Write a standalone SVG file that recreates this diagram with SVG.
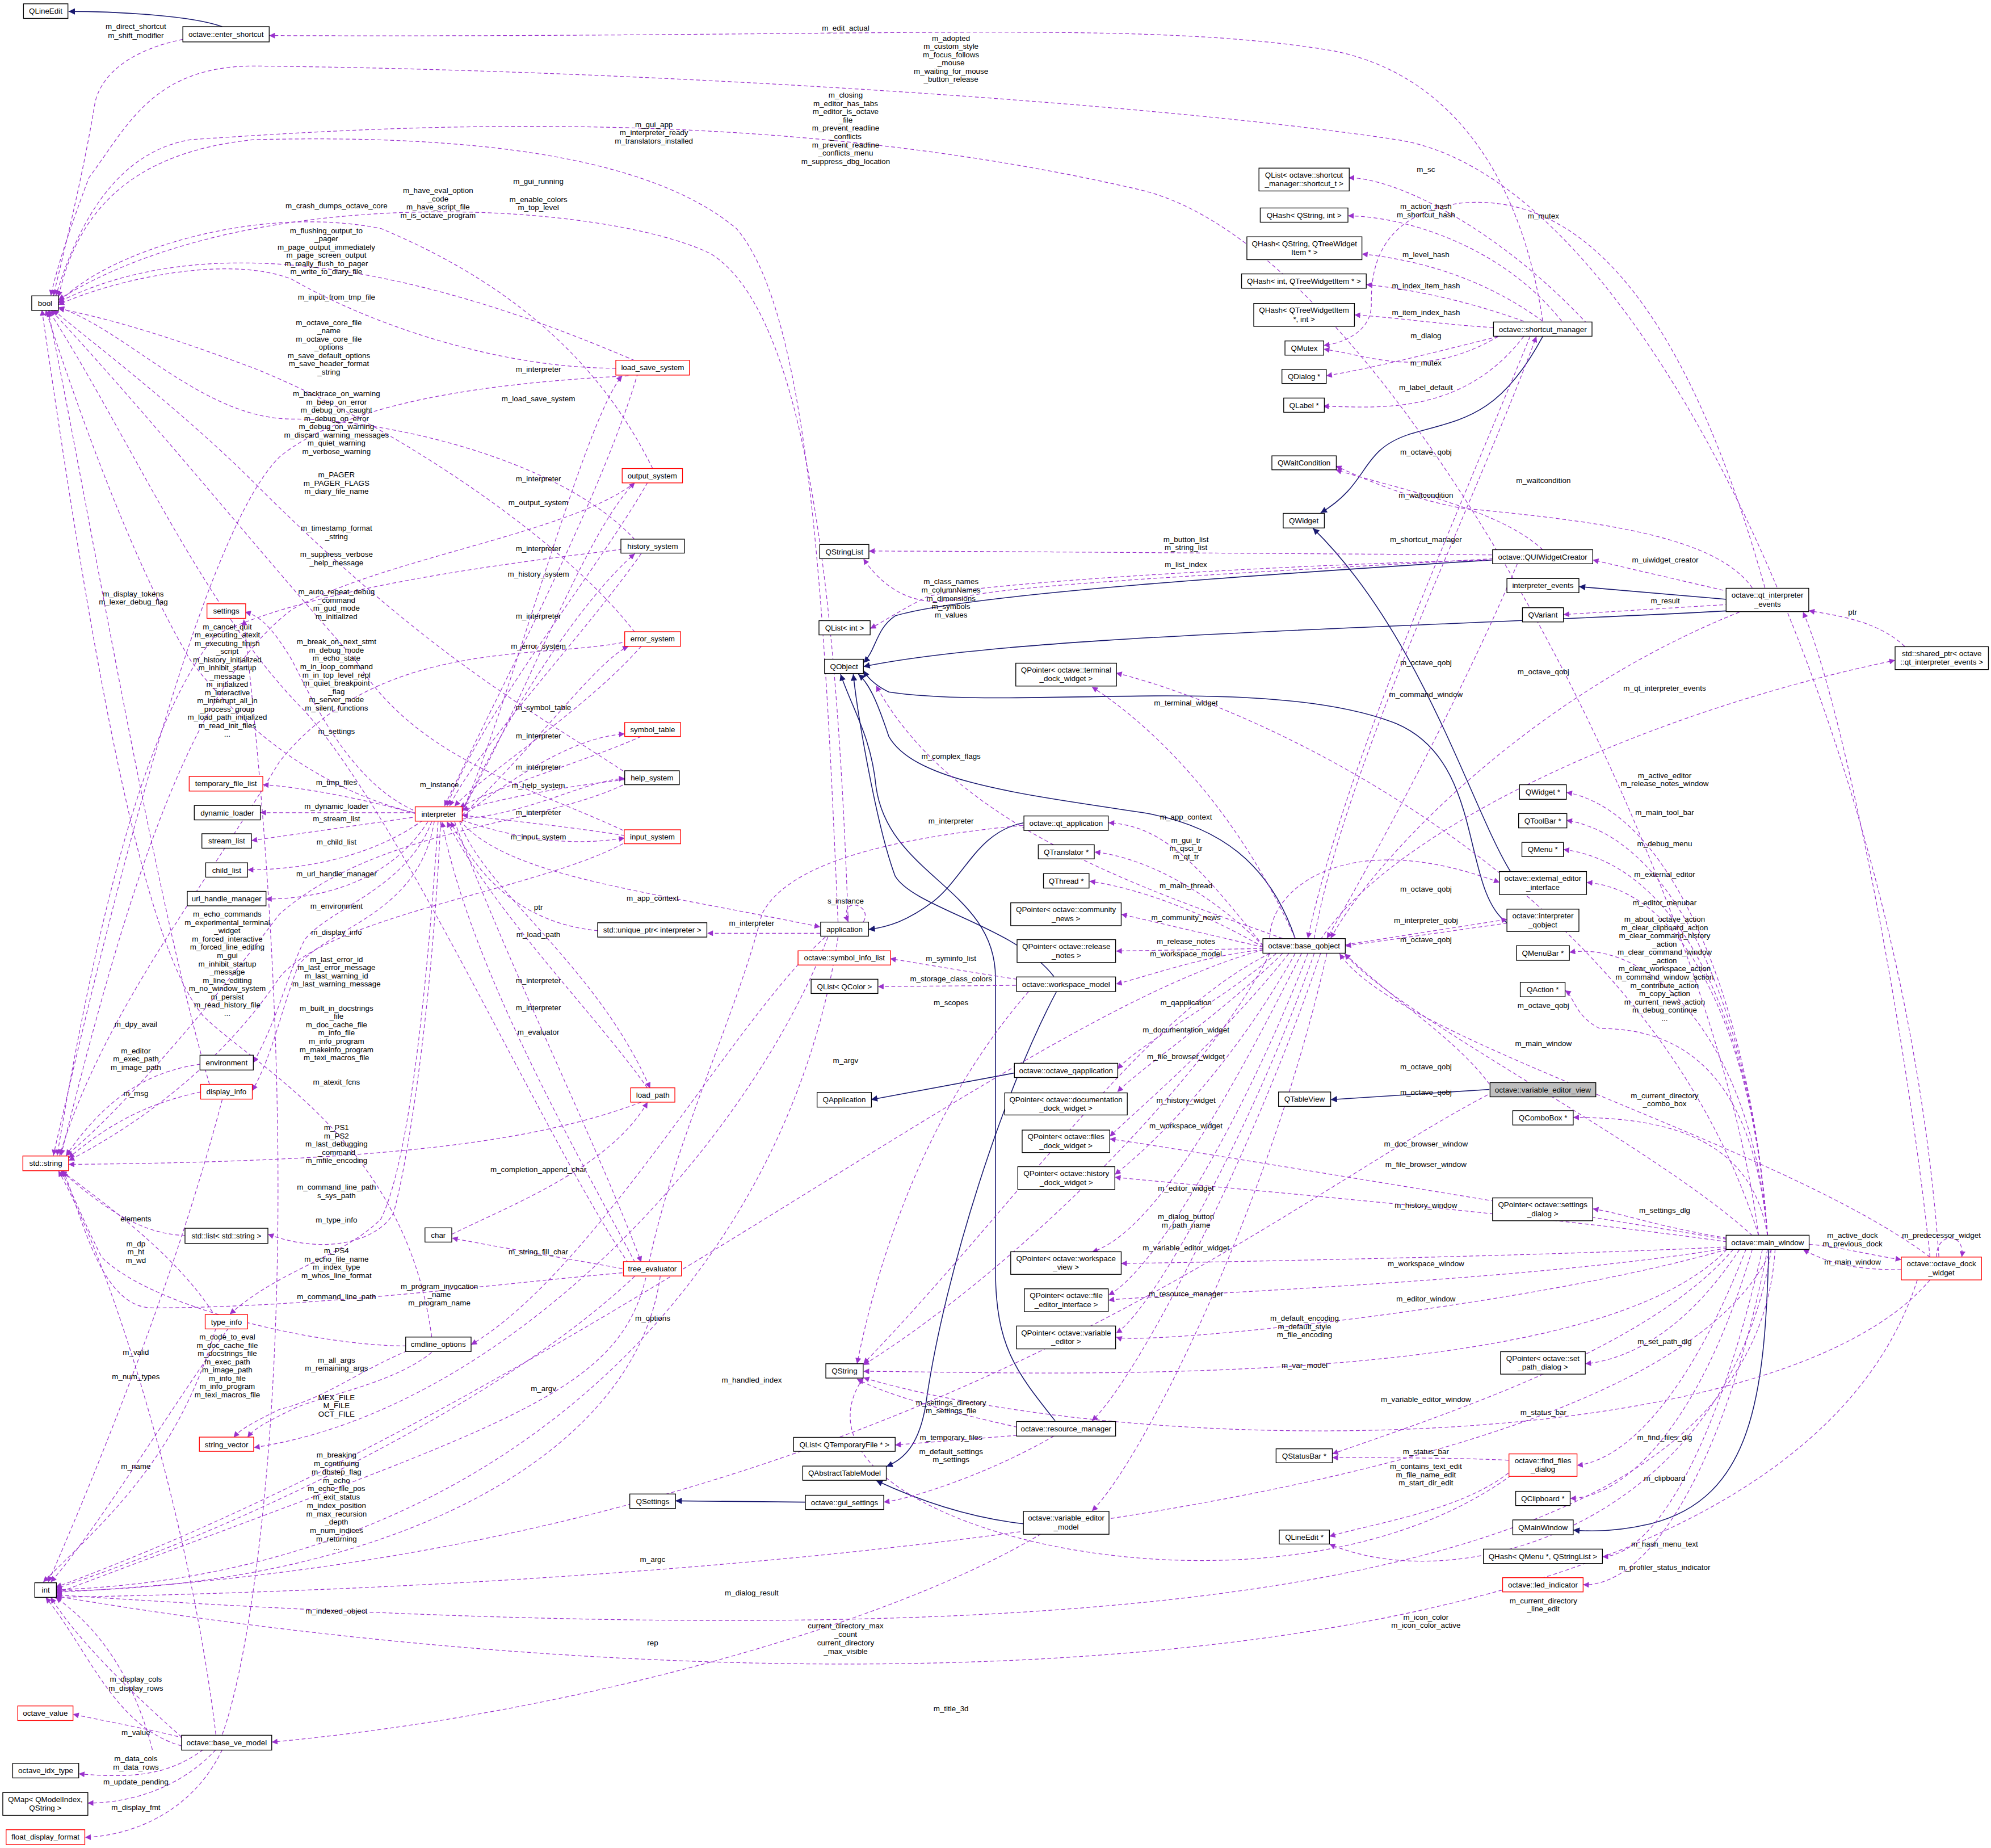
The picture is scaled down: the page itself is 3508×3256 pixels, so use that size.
<svg xmlns="http://www.w3.org/2000/svg" width="3508" height="3256" viewBox="0 0 3508 3256">
<style>
.n rect{fill:#fff;stroke:#000;stroke-width:0.6}
.r rect{stroke:#f00}
.g rect{fill:#bfbfbf}
text{font-family:"Liberation Sans",Arial,sans-serif;font-size:6px;fill:#000}
.n text{text-anchor:middle}
.e{fill:none;stroke:#9a32cd;stroke-width:0.55;stroke-dasharray:3,2;marker-end:url(#ap)}
.i{fill:none;stroke:#191970;stroke-width:0.7;marker-end:url(#ab)}
.l text{text-anchor:middle}
</style>
<defs>
<marker id="ap" viewBox="0 0 10 10" refX="10" refY="5" markerWidth="5" markerHeight="4.5" markerUnits="userSpaceOnUse" orient="auto"><path d="M0,0L10,5L0,10z" fill="#9a32cd"/></marker>
<marker id="ab" viewBox="0 0 10 10" refX="10" refY="5" markerWidth="5.5" markerHeight="5" markerUnits="userSpaceOnUse" orient="auto"><path d="M0,0L10,5L0,10z" fill="#191970"/></marker>
</defs>
<rect width="3508" height="3256" fill="#fff"/>
<g transform="scale(2.2372)">
<g id="connectors">
<path class="i" d="M175,21C150,12 90,9 54,9"/>
<path class="i" d="M1215,265C1180,330 1150,330 1110,342C1070,355 1080,380 1040,404"/>
<path class="i" d="M1175,441C1000,452 760,468 705,485C690,495 690,512 680,522"/>
<path class="i" d="M1360,472L1243.5,462"/>
<path class="i" d="M1362,481C1100,495 800,500 680,525"/>
<path class="i" d="M1020,739C1000,680 960,650 900,640C800,625 720,615 700,580C690,550 684,538 676,531"/>
<path class="i" d="M830,769C800,730 720,715 705,690C690,650 675,560 672,531"/>
<path class="i" d="M806,648C770,655 760,690 735,710C715,725 700,730 684,732"/>
<path class="i" d="M799,845L686,866"/>
<path class="i" d="M1190,687C1160,640 1120,500 1034,416"/>
<path class="i" d="M1187,727C1150,700 1170,600 1100,570C1000,530 800,560 700,545C690,540 684,535 680,528"/>
<path class="i" d="M1173,858L1048,866"/>
<path class="i" d="M831,1119C800,1080 784,1060 784,1000L784,770C784,700 700,690 690,620C686,580 672,560 662,531"/>
<path class="i" d="M832,781C790,860 745,1000 730,1100C725,1140 710,1150 698,1155"/>
<path class="i" d="M806,1200C760,1195 720,1180 690,1166"/>
<path class="i" d="M634,1183L532,1182"/>
<path class="i" d="M1393,984C1390,1100 1380,1180 1300,1200C1270,1207 1250,1206 1239,1205"/>

<path class="e" d="M144,31C100,40 80,60 75,80C65,140 50,200 42,233"/>
<path class="e" d="M1215,253C1200,150 1150,60 1050,40C900,15 700,30 212,28"/>
<path class="e" d="M1527,990C1500,600 1300,140 1100,110C900,80 500,55 200,52C120,52 100,100 70,140C55,180 45,210 40,233"/>
<path class="e" d="M1385,973C1350,700 1100,200 900,150C600,80 300,100 150,110C90,120 60,180 44,233"/>
<path class="e" d="M660,726C650,500 640,250 580,180C520,130 400,105 200,110C100,120 60,170 46,234"/>
<path class="e" d="M668,726C660,500 640,250 560,200C480,160 200,140 46,236"/>
<path class="e" d="M500,284C420,250 200,160 46,238"/>
<path class="e" d="M514,369C480,300 420,230 300,180C200,160 80,200 46,239"/>
<path class="e" d="M485,290C400,290 300,260 230,220C180,200 90,220 46,240"/>
<path class="e" d="M500,425C440,360 300,330 230,330C160,330 100,260 46,242"/>
<path class="e" d="M500,498C440,420 300,330 200,290C120,260 80,250 46,243"/>
<path class="e" d="M495,610C420,560 340,520 200,380C140,320 60,260 42,244"/>
<path class="e" d="M495,656C420,620 330,600 280,520C200,430 120,330 40,244"/>
<path class="e" d="M495,995C430,900 320,650 240,560C160,480 100,340 38,244"/>
<path class="e" d="M330,641C240,620 180,560 150,520C120,470 80,380 36,244"/>
<path class="e" d="M340,1053C320,900 200,840 160,800C110,740 70,500 33,244"/>
<path class="e" d="M500,380C450,420 300,440 230,480C150,540 100,700 48,910"/>
<path class="e" d="M495,432C430,440 250,460 170,500C120,560 80,700 45,910"/>
<path class="e" d="M495,296C420,300 280,310 220,360C160,420 90,700 42,910"/>
<path class="e" d="M495,505C430,520 300,500 220,600C160,700 80,800 47,910"/>
<path class="e" d="M495,616C430,650 300,650 220,720C160,800 90,880 52,910"/>
<path class="e" d="M495,662C430,700 260,720 220,770C180,830 120,880 54,914"/>
<path class="e" d="M505,868C420,900 300,915 54,917"/>
<path class="e" d="M495,1002C400,1010 250,1030 120,1030C80,1030 65,960 50,922"/>
<path class="e" d="M320,1060C250,1060 120,1030 80,990C65,960 55,935 48,922"/>
<path class="e" d="M158,838C110,845 80,870 52,910"/>
<path class="e" d="M158,860C110,870 80,890 54,912"/>
<path class="e" d="M146,973C110,972 80,950 48,922"/>
<path class="e" d="M330,640C280,620 250,560 230,520C215,495 205,485 193,482"/>
<path class="e" d="M328,641C290,630 240,620 207,618"/>
<path class="e" d="M328,640L205,640"/>
<path class="e" d="M330,643L198,662"/>
<path class="e" d="M333,646C300,670 250,685 195,685"/>
<path class="e" d="M337,647C310,690 260,708 209.5,708"/>
<path class="e" d="M340,647C320,700 260,715 240,740C225,770 220,800 199.5,837"/>
<path class="e" d="M342,647C330,720 260,730 235,760C220,800 215,830 198.7,859"/>
<path class="e" d="M345,647C335,800 320,920 300,960C270,990 220,1000 181,1035"/>
<path class="e" d="M347,647C340,800 320,920 310,955C300,975 260,990 211,972"/>
<path class="e" d="M330,1060C280,1080 260,1100 220,1110C200,1120 190,1125 184,1132"/>
<path class="e" d="M340,1065C310,1090 250,1100 230,1110C210,1120 200,1125 195,1132"/>
<path class="e" d="M505,284C480,380 390,550 350,635"/>
<path class="e" d="M510,380C470,450 380,560 352,635"/>
<path class="e" d="M505,436C460,500 375,590 354,635"/>
<path class="e" d="M505,509C460,560 380,610 358,635"/>
<path class="e" d="M505,580C460,600 390,620 362,636"/>
<path class="e" d="M492,614C440,620 390,630 364,638"/>
<path class="e" d="M492,658C440,650 390,645 364,642"/>
<path class="e" d="M510,857C470,800 390,720 352,647"/>
<path class="e" d="M500,994C450,900 370,760 348,647"/>
<path class="e" d="M471,733C420,728 380,700 355,647"/>
<path class="e" d="M364,639C400,560 460,330 490,296"/>
<path class="e" d="M364,638C410,560 460,420 500,380"/>
<path class="e" d="M364,640C400,560 460,470 500,436"/>
<path class="e" d="M364,642C420,590 470,520 495,509"/>
<path class="e" d="M364,643C420,600 460,580 492,578"/>
<path class="e" d="M364,645C420,640 460,615 492,613"/>
<path class="e" d="M364,646C420,665 460,665 492,660"/>
<path class="e" d="M362,647C380,700 470,760 512,857"/>
<path class="e" d="M358,647C400,760 470,900 505,994"/>
<path class="e" d="M362,646C400,690 500,700 646,730"/>
<path class="e" d="M646,735L557,735"/>
<path class="e" d="M495,1000C440,990 380,980 356,975"/>
<path class="e" d="M356,972C400,950 480,920 510,868"/>
<path class="e" d="M680,726C688,712 660,705 668,726"/>
<path class="e" d="M650,738C580,800 470,1000 371,1059"/>
<path class="e" d="M652,738C590,900 400,1110 200,1140"/>
<path class="e" d="M660,738C620,1000 400,1240 44,1252"/>
<path class="e" d="M806,650C700,660 620,680 600,720C580,800 530,900 510,1000C490,1100 400,1120 44,1255"/>
<path class="e" d="M995,748C800,800 450,1100 44,1250"/>
<path class="e" d="M500,1005C400,1100 200,1200 44,1251"/>
<path class="e" d="M520,1005C500,1150 300,1250 44,1253"/>
<path class="e" d="M1176,860C1000,950 700,1220 44,1254"/>
<path class="e" d="M1250,255C1180,180 1100,140 1062,140"/>
<path class="e" d="M1230,253C1180,190 1100,170 1061.6,170"/>
<path class="e" d="M1215,253C1170,220 1120,205 1072.6,200"/>
<path class="e" d="M1200,253C1150,235 1110,228 1076,224"/>
<path class="e" d="M1176,258C1130,255 1100,250 1066.7,248"/>
<path class="e" d="M1180,265C1120,300 1080,280 1042.5,275"/>
<path class="e" d="M1180,265C1120,280 1080,290 1044.5,296"/>
<path class="e" d="M1200,265C1150,330 1080,320 1042,320"/>
<path class="e" d="M1390,463C1330,250 1250,150 1150,160C1080,170 1080,220 1080,240C1080,260 1060,270 1042.5,272"/>
<path class="e" d="M1205,265C1150,400 1060,600 1030,739"/>
<path class="e" d="M1380,463C1350,420 1250,410 1150,400C1100,390 1070,375 1052,367"/>
<path class="e" d="M1215,433C1180,400 1100,385 1052,370"/>
<path class="e" d="M1035,739C1060,600 1160,400 1210,265"/>
<path class="e" d="M1175,437C1000,436 760,434 684.3,434"/>
<path class="e" d="M1175,441C1000,445 760,460 730,470C710,480 695,490 685.3,495"/>
<path class="e" d="M1176,440C1000,450 800,460 760,470C730,480 700,470 680,440"/>
<path class="e" d="M1362,466L1254.4,441"/>
<path class="e" d="M1362,476L1231.3,484"/>
<path class="e" d="M1500,509C1480,490 1450,485 1424.5,481"/>
<path class="e" d="M1040,740C1100,650 1300,560 1492.5,520"/>
<path class="e" d="M1195,444C1150,550 1080,680 1045,739"/>
<path class="e" d="M1370,482C1200,550 1080,680 1048,739"/>
<path class="e" d="M1020,739C980,650 920,580 860,541"/>
<path class="e" d="M1385,973C1300,700 1000,560 879,530"/>
<path class="e" d="M1010,739C900,700 750,650 690,540"/>
<path class="e" d="M995,745C950,690 920,650 873,648"/>
<path class="e" d="M995,745C950,700 900,675 862,671"/>
<path class="e" d="M995,746C950,720 900,700 858,694"/>
<path class="e" d="M995,746L883,720"/>
<path class="e" d="M995,747L879,749"/>
<path class="e" d="M995,748C950,752 900,770 879,775"/>
<path class="e" d="M806,772C760,765 720,758 701,755"/>
<path class="e" d="M800,776L691.4,777"/>
<path class="e" d="M810,781C750,850 700,950 675,1074"/>
<path class="e" d="M1000,751C900,800 800,950 680,1074"/>
<path class="e" d="M1005,751C960,790 900,820 880,842"/>
<path class="e" d="M1010,751C960,800 900,840 880,860"/>
<path class="e" d="M1015,751C960,820 900,870 874,895"/>
<path class="e" d="M1020,751C970,840 910,900 878,925"/>
<path class="e" d="M1025,751C970,860 910,970 860,986"/>
<path class="e" d="M1030,751C980,880 910,1000 873,1020"/>
<path class="e" d="M1035,751C990,880 910,1030 879,1050"/>
<path class="e" d="M1040,751C990,900 900,1080 860,1119"/>
<path class="e" d="M1045,751C1000,950 900,1150 860,1190"/>
<path class="e" d="M1000,751C950,850 800,1000 680,1075"/>
<path class="e" d="M806,1125C760,1115 700,1100 675,1086"/>
<path class="e" d="M806,1130L705,1138"/>
<path class="e" d="M830,1131C780,1160 720,1180 696,1183"/>
<path class="e" d="M1000,739C1000,700 1060,650 1181,695"/>
<path class="e" d="M1187,727L1059.5,745"/>
<path class="e" d="M1059.5,744L1187,724"/>
<path class="e" d="M1380,973C1300,900 1100,800 1059,751"/>
<path class="e" d="M1176,858C1150,820 1100,790 1059,751"/>
<path class="e" d="M1520,990C1400,900 1100,820 1055,751"/>
<path class="e" d="M1392,973C1380,800 1320,640 1233.6,624"/>
<path class="e" d="M1392,973C1380,800 1320,660 1233.6,646"/>
<path class="e" d="M1392,973C1380,800 1320,680 1231.3,669"/>
<path class="e" d="M1392,973C1380,800 1320,700 1249.5,695"/>
<path class="e" d="M1392,973C1380,820 1300,740 1236,750"/>
<path class="e" d="M1392,973C1380,840 1320,810 1260,810C1240,800 1240,785 1232.6,780"/>
<path class="e" d="M1392,973C1380,900 1320,880 1239,880"/>
<path class="e" d="M1360,976C1200,950 900,900 874,897"/>
<path class="e" d="M1360,978C1200,955 900,930 878,927"/>
<path class="e" d="M1365,976C1300,965 1280,956 1254.4,952"/>
<path class="e" d="M1360,982C1200,990 900,995 883,995"/>
<path class="e" d="M1360,983C1200,1010 900,1020 873,1024"/>
<path class="e" d="M1360,984C1200,1030 900,1060 879,1053"/>
<path class="e" d="M1370,984C1320,1060 1270,1072 1248.5,1074"/>
<path class="e" d="M1360,984C1250,1100 800,1080 680,1080"/>
<path class="e" d="M1365,984C1300,1060 1150,1110 1049.3,1145"/>
<path class="e" d="M1188,1150C1150,1148 1080,1148 1049.3,1148"/>
<path class="e" d="M1375,984C1330,1100 1280,1150 1242,1154"/>
<path class="e" d="M1188,1160C1150,1190 1080,1200 1047,1210"/>
<path class="e" d="M1380,984C1340,1120 1280,1180 1236.6,1180"/>
<path class="e" d="M1388,984C1350,1150 1300,1225 1262,1226"/>
<path class="e" d="M1392,984C1360,1150 1300,1250 1246.8,1248"/>
<path class="e" d="M1395,984C1360,1200 1150,1260 1047,1216"/>
<path class="e" d="M1398,984C1380,1280 800,1306 44,1256"/>
<path class="e" d="M1510,1008C1400,1351 600,1351 44,1257"/>
<path class="e" d="M1395,984C1300,1200 500,1250 42,1258"/>
<path class="e" d="M1424.8,980C1450,982 1470,988 1497.4,992"/>
<path class="e" d="M1497.4,1000C1460,1000 1440,995 1420,984"/>
<path class="e" d="M1525,990C1525,970 1548,970 1545,990"/>
<path class="e" d="M1520,1008C1400,1150 900,1150 680,1085"/>
<path class="e" d="M1520,990C1500,800 1450,550 1420,482"/>
<path class="e" d="M820,1208C700,1280 450,1350 214,1372"/>
<path class="e" d="M1190,1162C1000,1300 600,1200 680,1085"/>
<path class="e" d="M143,1368C100,1330 60,1290 40,1258"/>
<path class="e" d="M150,1370C110,1360 80,1355 57.5,1350"/>
<path class="e" d="M143,1375C90,1360 70,1300 36,1258"/>
<path class="e" d="M160,1378C130,1400 100,1400 62,1397"/>
<path class="e" d="M170,1378C140,1410 100,1420 69,1420"/>
<path class="e" d="M175,1378C150,1430 100,1446 67,1447"/>
<path class="e" d="M170,1366C150,1200 90,1000 46,922"/>
<path class="e" d="M180,1046C140,1100 80,1200 40,1246"/>
<path class="e" d="M175,1046C150,1000 100,960 48,922"/>
<path class="e" d="M170,1046C140,1150 80,1200 34,1246"/>
<path class="e" d="M175,866C140,1000 80,1150 38,1246"/>
<path class="e" d="M165,854C120,700 70,400 38,245"/>
<path class="e" d="M120,1378C100,1300 60,1270 44,1258"/>
<path class="e" d="M175,1366C200,1300 250,1000 192,488"/>
</g>

<g class="l">
<text x="107" y="23">m_direct_shortcut</text><text x="107" y="29.8">m_shift_modifier</text>
<text x="666" y="24">m_edit_actual</text>
<text x="749" y="32">m_adopted</text><text x="749" y="38.5">m_custom_style</text><text x="749" y="45">m_focus_follows</text><text x="749" y="51.5">_mouse</text><text x="749" y="58">m_waiting_for_mouse</text><text x="749" y="64.5">_button_release</text>
<text x="666" y="77">m_closing</text><text x="666" y="83.5">m_editor_has_tabs</text><text x="666" y="90">m_editor_is_octave</text><text x="666" y="96.5">_file</text><text x="666" y="103">m_prevent_readline</text><text x="666" y="109.5">_conflicts</text><text x="666" y="116">m_prevent_readline</text><text x="666" y="122.5">_conflicts_menu</text><text x="666" y="129">m_suppress_dbg_location</text>
<text x="515" y="100">m_gui_app</text><text x="515" y="106.5">m_interpreter_ready</text><text x="515" y="113">m_translators_installed</text>
<text x="345" y="152">m_have_eval_option</text><text x="345" y="158.5">_code</text><text x="345" y="165">m_have_script_file</text><text x="345" y="171.5">m_is_octave_program</text>
<text x="424" y="145">m_gui_running</text>
<text x="424" y="159">m_enable_colors</text><text x="424" y="165.5">m_top_level</text>
<text x="265" y="164">m_crash_dumps_octave_core</text>
<text x="257" y="183.5">m_flushing_output_to</text><text x="257" y="190">_pager</text><text x="257" y="196.5">m_page_output_immediately</text><text x="257" y="203">m_page_screen_output</text><text x="257" y="209.5">m_really_flush_to_pager</text><text x="257" y="216">m_write_to_diary_file</text>
<text x="265" y="236">m_input_from_tmp_file</text>
<text x="259" y="256">m_octave_core_file</text><text x="259" y="262.5">_name</text><text x="259" y="269">m_octave_core_file</text><text x="259" y="275.5">_options</text><text x="259" y="282">m_save_default_options</text><text x="259" y="288.5">m_save_header_format</text><text x="259" y="295">_string</text>
<text x="265" y="312">m_backtrace_on_warning</text><text x="265" y="318.5">m_beep_on_error</text><text x="265" y="325">m_debug_on_caught</text><text x="265" y="331.5">m_debug_on_error</text><text x="265" y="338">m_debug_on_warning</text><text x="265" y="344.5">m_discard_warning_messages</text><text x="265" y="351">m_quiet_warning</text><text x="265" y="357.5">m_verbose_warning</text>
<text x="265" y="376">m_PAGER</text><text x="265" y="382.5">m_PAGER_FLAGS</text><text x="265" y="389">m_diary_file_name</text>
<text x="265" y="418">m_timestamp_format</text><text x="265" y="424.5">_string</text>
<text x="265" y="438.5">m_suppress_verbose</text><text x="265" y="445">_help_message</text>
<text x="265" y="468">m_auto_repeat_debug</text><text x="265" y="474.5">_command</text><text x="265" y="481">m_gud_mode</text><text x="265" y="487.5">m_initialized</text>
<text x="105" y="470">m_display_tokens</text><text x="105" y="476">m_lexer_debug_flag</text>
<text x="179" y="495.5">m_cancel_quit</text><text x="179" y="502">m_executing_atexit</text><text x="179" y="508.5">m_executing_finish</text><text x="179" y="515">_script</text><text x="179" y="521.5">m_history_initialized</text><text x="179" y="528">m_inhibit_startup</text><text x="179" y="534.5">_message</text><text x="179" y="541">m_initialized</text><text x="179" y="547.5">m_interactive</text><text x="179" y="554">m_interrupt_all_in</text><text x="179" y="560.5">_process_group</text><text x="179" y="567">m_load_path_initialized</text><text x="179" y="573.5">m_read_init_files</text><text x="179" y="580">...</text>
<text x="265" y="507.5">m_break_on_next_stmt</text><text x="265" y="514">m_debug_mode</text><text x="265" y="520.5">m_echo_state</text><text x="265" y="527">m_in_loop_command</text><text x="265" y="533.5">m_in_top_level_repl</text><text x="265" y="540">m_quiet_breakpoint</text><text x="265" y="546.5">_flag</text><text x="265" y="553">m_server_mode</text><text x="265" y="559.5">m_silent_functions</text>
<text x="265" y="578">m_settings</text>
<text x="424" y="293">m_interpreter</text><text x="424" y="316">m_load_save_system</text>
<text x="424" y="379">m_interpreter</text><text x="424" y="398">m_output_system</text>
<text x="424" y="434">m_interpreter</text><text x="424" y="454">m_history_system</text>
<text x="424" y="487">m_interpreter</text><text x="424" y="511">m_error_system</text>
<text x="428" y="559">m_symbol_table</text><text x="424" y="581.5">m_interpreter</text>
<text x="424" y="606">m_interpreter</text><text x="424" y="620.5">m_help_system</text>
<text x="265" y="618">m_tmp_files</text><text x="346" y="620">m_instance</text>
<text x="265" y="637">m_dynamic_loader</text><text x="424" y="642">m_interpreter</text>
<text x="265" y="647">m_stream_list</text><text x="424" y="661">m_input_system</text>
<text x="265" y="665">m_child_list</text><text x="265" y="690">m_url_handle_manager</text>
<text x="265" y="715.5">m_environment</text><text x="514" y="709.5">m_app_context</text><text x="424" y="716.5">ptr</text>
<text x="179" y="722">m_echo_commands</text><text x="179" y="728.5">m_experimental_terminal</text><text x="179" y="735">_widget</text><text x="179" y="741.5">m_forced_interactive</text><text x="179" y="748">m_forced_line_editing</text><text x="179" y="754.5">m_gui</text><text x="179" y="761">m_inhibit_startup</text><text x="179" y="767.5">_message</text><text x="179" y="774">m_line_editing</text><text x="179" y="780.5">m_no_window_system</text><text x="179" y="787">m_persist</text><text x="179" y="793.5">m_read_history_file</text><text x="179" y="800">...</text>
<text x="265" y="736">m_display_info</text><text x="424" y="738">m_load_path</text>
<text x="265" y="757.5">m_last_error_id</text><text x="265" y="764">m_last_error_message</text><text x="265" y="770.5">m_last_warning_id</text><text x="265" y="777">m_last_warning_message</text>
<text x="424" y="774">m_interpreter</text><text x="424" y="795.5">m_interpreter</text><text x="424" y="815">m_evaluator</text>
<text x="265" y="796">m_built_in_docstrings</text><text x="265" y="802.5">_file</text><text x="265" y="809">m_doc_cache_file</text><text x="265" y="815.5">m_info_file</text><text x="265" y="822">m_info_program</text><text x="265" y="828.5">m_makeinfo_program</text><text x="265" y="835">m_texi_macros_file</text>
<text x="107" y="808.5">m_dpy_avail</text>
<text x="107" y="829.5">m_editor</text><text x="107" y="836">m_exec_path</text><text x="107" y="842.5">m_image_path</text>
<text x="265" y="854">m_atexit_fcns</text><text x="107" y="863">m_msg</text>
<text x="265" y="890">m_PS1</text><text x="265" y="896.5">m_PS2</text><text x="265" y="903">m_last_debugging</text><text x="265" y="909.5">_command</text><text x="265" y="916">m_mfile_encoding</text>
<text x="424" y="923">m_completion_append_char</text>
<text x="265" y="937">m_command_line_path</text><text x="265" y="943.5">s_sys_path</text>
<text x="107" y="962">elements</text><text x="265" y="963">m_type_info</text>
<text x="107" y="981.5">m_dp</text><text x="107" y="988">m_ht</text><text x="107" y="994.5">m_wd</text>
<text x="265" y="987">m_PS4</text><text x="265" y="993.5">m_echo_file_name</text><text x="265" y="1000">m_index_type</text><text x="265" y="1006.5">m_whos_line_format</text>
<text x="424" y="988">m_string_fill_char</text>
<text x="346" y="1015">m_program_invocation</text><text x="346" y="1021.5">_name</text><text x="346" y="1028">m_program_name</text>
<text x="265" y="1023">m_command_line_path</text><text x="514" y="1040">m_options</text>
<text x="179" y="1055">m_code_to_eval</text><text x="179" y="1061.5">m_doc_cache_file</text><text x="179" y="1068">m_docstrings_file</text><text x="179" y="1074.5">m_exec_path</text><text x="179" y="1081">m_image_path</text><text x="179" y="1087.5">m_info_file</text><text x="179" y="1094">m_info_program</text><text x="179" y="1100.5">m_texi_macros_file</text>
<text x="107" y="1067">m_valid</text><text x="107" y="1086">m_num_types</text>
<text x="265" y="1073">m_all_args</text><text x="265" y="1079.5">m_remaining_args</text>
<text x="428" y="1095.5">m_argv</text>
<text x="265" y="1102.5">MEX_FILE</text><text x="265" y="1109">M_FILE</text><text x="265" y="1115.5">OCT_FILE</text>
<text x="107" y="1157">m_name</text>
<text x="265" y="1148">m_breaking</text><text x="265" y="1154.6">m_continuing</text><text x="265" y="1161.2">m_dbstep_flag</text><text x="265" y="1167.8">m_echo</text><text x="265" y="1174.4">m_echo_file_pos</text><text x="265" y="1181">m_exit_status</text><text x="265" y="1187.6">m_index_position</text><text x="265" y="1194.2">m_max_recursion</text><text x="265" y="1200.8">_depth</text><text x="265" y="1207.4">m_num_indices</text><text x="265" y="1214">m_returning</text><text x="265" y="1220.6">...</text>
<text x="514" y="1230">m_argc</text><text x="265" y="1271">m_indexed_object</text><text x="514" y="1296">rep</text>
<text x="107" y="1324.5">m_display_cols</text><text x="107" y="1331.5">m_display_rows</text>
<text x="107" y="1366.5">m_value</text>
<text x="107" y="1387">m_data_cols</text><text x="107" y="1393.5">m_data_rows</text>
<text x="107" y="1405.5">m_update_pending</text><text x="107" y="1425.5">m_display_fmt</text>
<text x="1123" y="135.5">m_sc</text>
<text x="1123" y="164.7">m_action_hash</text><text x="1123" y="171">m_shortcut_hash</text>
<text x="1215.5" y="172">m_mutex</text>
<text x="1123" y="202.3">m_level_hash</text><text x="1123" y="227">m_index_item_hash</text><text x="1123" y="248.3">m_item_index_hash</text>
<text x="1123" y="266.6">m_dialog</text><text x="1123" y="288">m_mutex</text><text x="1123" y="307">m_label_default</text>
<text x="1123" y="358">m_octave_qobj</text><text x="1215.5" y="380.4">m_waitcondition</text><text x="1123" y="392">m_waitcondition</text><text x="1123" y="426.7">m_shortcut_manager</text>
<text x="934" y="427">m_button_list</text><text x="934" y="433.3">m_string_list</text><text x="934" y="446.6">m_list_index</text>
<text x="749" y="460">m_class_names</text><text x="749" y="466.6">m_columnNames</text><text x="749" y="473.2">m_dimensions</text><text x="749" y="479.8">m_symbols</text><text x="749" y="486.4">m_values</text>
<text x="1311.5" y="443">m_uiwidget_creator</text><text x="1311.5" y="475">m_result</text><text x="1459" y="484">ptr</text>
<text x="1123" y="524">m_octave_qobj</text><text x="1215.5" y="531">m_octave_qobj</text><text x="1311" y="544">m_qt_interpreter_events</text><text x="1123" y="548.7">m_command_window</text>
<text x="934" y="555.6">m_terminal_widget</text><text x="749" y="597.5">m_complex_flags</text><text x="749" y="648.5">m_interpreter</text><text x="934" y="645.4">m_app_context</text>
<text x="934" y="663.7">m_gui_tr</text><text x="934" y="670.2">m_qsci_tr</text><text x="934" y="676.7">m_qt_tr</text>
<text x="934" y="699.4">m_main_thread</text><text x="666" y="711.6">s_instance</text><text x="934" y="724.6">m_community_news</text><text x="592" y="729">m_interpreter</text>
<text x="934" y="743.3">m_release_notes</text><text x="934" y="753.2">m_workspace_model</text><text x="749" y="756.6">m_syminfo_list</text><text x="749" y="772.8">m_storage_class_colors</text>
<text x="749" y="791.4">m_scopes</text><text x="934" y="791.4">m_qapplication</text><text x="934" y="813">m_documentation_widget</text><text x="666" y="837">m_argv</text>
<text x="934" y="834.3">m_file_browser_widget</text><text x="934" y="868.5">m_history_widget</text><text x="934" y="888.7">m_workspace_widget</text><text x="934" y="938">m_editor_widget</text>
<text x="934" y="960.2">m_dialog_button</text><text x="934" y="966.7">m_path_name</text><text x="934" y="984.6">m_variable_editor_widget</text><text x="934" y="1020.7">m_resource_manager</text>
<text x="1027.4" y="1040.2">m_default_encoding</text><text x="1027.4" y="1046.8">m_default_style</text><text x="1027.4" y="1053.3">m_file_encoding</text>
<text x="1027.4" y="1077.2">m_var_model</text><text x="592" y="1089">m_handled_index</text>
<text x="749" y="1106.7">m_settings_directory</text><text x="749" y="1113">m_settings_file</text><text x="749" y="1133.8">m_temporary_files</text>
<text x="749" y="1145">m_default_settings</text><text x="749" y="1151.5">m_settings</text>
<text x="592" y="1256.5">m_dialog_result</text>
<text x="666" y="1282.6">current_directory_max</text><text x="666" y="1289">_count</text><text x="666" y="1295.8">current_directory</text><text x="666" y="1302.5">_max_visible</text>
<text x="749" y="1347.6">m_title_3d</text>
<text x="1311" y="612.8">m_active_editor</text><text x="1311" y="619.3">m_release_notes_window</text><text x="1311" y="642">m_main_tool_bar</text><text x="1311" y="666.5">m_debug_menu</text><text x="1311" y="690.4">m_external_editor</text><text x="1123" y="702">m_octave_qobj</text>
<text x="1311" y="712.8">m_editor_menubar</text><text x="1123" y="727">m_interpreter_qobj</text><text x="1123" y="742">m_octave_qobj</text>
<text x="1311" y="726">m_about_octave_action</text><text x="1311" y="732.5">m_clear_clipboard_action</text><text x="1311" y="739">m_clear_command_history</text><text x="1311" y="745.5">_action</text><text x="1311" y="752">m_clear_command_window</text><text x="1311" y="758.5">_action</text><text x="1311" y="765">m_clear_workspace_action</text><text x="1311" y="771.5">m_command_window_action</text><text x="1311" y="778">m_contribute_action</text><text x="1311" y="784.5">m_copy_action</text><text x="1311" y="791">m_current_news_action</text><text x="1311" y="797.5">m_debug_continue</text><text x="1311" y="804">...</text>
<text x="1215.5" y="794">m_octave_qobj</text><text x="1215.5" y="824">m_main_window</text><text x="1123" y="842">m_octave_qobj</text><text x="1123" y="862.3">m_octave_qobj</text>
<text x="1311" y="864.8">m_current_directory</text><text x="1311" y="871.3">_combo_box</text>
<text x="1123" y="903">m_doc_browser_window</text><text x="1123" y="918.8">m_file_browser_window</text><text x="1123" y="951.2">m_history_window</text><text x="1311" y="955.2">m_settings_dlg</text>
<text x="1459" y="975">m_active_dock</text><text x="1459" y="981.5">m_previous_dock</text><text x="1529" y="975">m_predecessor_widget</text><text x="1459" y="995.8">m_main_window</text>
<text x="1123" y="997.3">m_workspace_window</text><text x="1123" y="1025">m_editor_window</text><text x="1311" y="1058.3">m_set_path_dlg</text>
<text x="1123" y="1104">m_variable_editor_window</text><text x="1215.5" y="1114.5">m_status_bar</text><text x="1311" y="1134">m_find_files_dlg</text><text x="1123" y="1145">m_status_bar</text>
<text x="1123" y="1156.8">m_contains_text_edit</text><text x="1123" y="1163.3">m_file_name_edit</text><text x="1123" y="1169.8">m_start_dir_edit</text>
<text x="1311" y="1166">m_clipboard</text><text x="1311" y="1218">m_hash_menu_text</text><text x="1311" y="1236.3">m_profiler_status_indicator</text>
<text x="1215.5" y="1262.7">m_current_directory</text><text x="1215.5" y="1269.2">_line_edit</text>
<text x="1123" y="1275.5">m_icon_color</text><text x="1123" y="1282">m_icon_color_active</text>
</g>

<g id="QLineEdit" class="n"><rect x="18.5" y="3" width="35" height="11.5"/><text x="36" y="10.8">QLineEdit</text></g>
<g id="enter_shortcut" class="n"><rect x="144" y="21" width="68" height="12"/><text x="178" y="29">octave::enter_shortcut</text></g>
<g id="bool" class="n"><rect x="25" y="233" width="21" height="11.5"/><text x="35.5" y="240.8">bool</text></g>
<g id="std_string" class="n r"><rect x="18" y="910.4" width="36" height="11.6"/><text x="36" y="918.2">std::string</text></g>
<g id="int" class="n"><rect x="27.4" y="1246.5" width="17" height="11.5"/><text x="36" y="1254.3">int</text></g>
<g id="octave_value" class="n r"><rect x="14" y="1343.5" width="43.5" height="11.5"/><text x="35.7" y="1351.3">octave_value</text></g>
<g id="octave_idx_type" class="n"><rect x="10" y="1388.7" width="52" height="11.5"/><text x="36" y="1396.5">octave_idx_type</text></g>
<g id="QMap" class="n"><rect x="2.2" y="1411.7" width="67" height="18"/><text x="35.7" y="1419">QMap&lt; QModelIndex,</text><text x="35.7" y="1426">QString &gt;</text></g>
<g id="float_display_format" class="n r"><rect x="4.8" y="1441" width="62" height="11.7"/><text x="35.8" y="1448.8">float_display_format</text></g>
<g id="settings" class="n r"><rect x="163" y="475.5" width="30.5" height="11.5"/><text x="178.2" y="483.3">settings</text></g>
<g id="temporary_file_list" class="n r"><rect x="149" y="611.5" width="58" height="11.5"/><text x="178" y="619.3">temporary_file_list</text></g>
<g id="dynamic_loader" class="n"><rect x="153" y="634.4" width="52" height="11.3"/><text x="179" y="642.2">dynamic_loader</text></g>
<g id="stream_list" class="n"><rect x="159" y="656.6" width="39" height="11.4"/><text x="178.5" y="664.4">stream_list</text></g>
<g id="child_list" class="n"><rect x="162" y="679.5" width="33" height="11.3"/><text x="178.5" y="687.3">child_list</text></g>
<g id="url_handle_manager" class="n"><rect x="147.5" y="702" width="62" height="11.4"/><text x="178.5" y="709.8">url_handle_manager</text></g>
<g id="environment" class="n"><rect x="157.5" y="831" width="42" height="11.7"/><text x="178.5" y="838.9">environment</text></g>
<g id="display_info" class="n r"><rect x="158" y="854" width="40.7" height="11.6"/><text x="178.3" y="861.9">display_info</text></g>
<g id="type_info" class="n r"><rect x="161.6" y="1035.3" width="33.4" height="11.3"/><text x="178.3" y="1043.1">type_info</text></g>
<g id="string_vector" class="n r"><rect x="157" y="1131.8" width="42.8" height="11.2"/><text x="178.4" y="1139.6">string_vector</text></g>
<g id="base_ve_model" class="n"><rect x="143" y="1366.6" width="71" height="11.7"/><text x="178.5" y="1374.5">octave::base_ve_model</text></g>
<g id="interpreter" class="n r"><rect x="327" y="635.4" width="37" height="11.3"/><text x="345.5" y="643.2">interpreter</text></g>
<g id="load_save_system" class="n r"><rect x="485" y="283.7" width="58" height="11.7"/><text x="514" y="291.6">load_save_system</text></g>
<g id="output_system" class="n r"><rect x="490" y="369" width="47.5" height="11.3"/><text x="513.7" y="376.8">output_system</text></g>
<g id="history_system" class="n"><rect x="489" y="424.6" width="50" height="11"/><text x="514" y="432.3">history_system</text></g>
<g id="error_system" class="n r"><rect x="492" y="497.5" width="44" height="11.5"/><text x="514" y="505.3">error_system</text></g>
<g id="symbol_table" class="n r"><rect x="492" y="569" width="44" height="11"/><text x="514" y="576.7">symbol_table</text></g>
<g id="help_system" class="n"><rect x="492" y="607" width="43" height="11"/><text x="513.5" y="614.7">help_system</text></g>
<g id="input_system" class="n r"><rect x="491.6" y="653.5" width="44.4" height="11"/><text x="513.8" y="661.2">input_system</text></g>
<g id="unique_ptr" class="n"><rect x="470.7" y="726.7" width="86" height="11.3"/><text x="513.7" y="734.5">std::unique_ptr&lt; interpreter &gt;</text></g>
<g id="application" class="n"><rect x="646.3" y="726.2" width="37.7" height="11.1"/><text x="665.1" y="733.9">application</text></g>
<g id="load_path" class="n r"><rect x="496.7" y="856.7" width="34.8" height="11.3"/><text x="514.1" y="864.5">load_path</text></g>
<g id="char" class="n"><rect x="334.7" y="967" width="21.1" height="11.2"/><text x="345.2" y="974.7">char</text></g>
<g id="std_list" class="n"><rect x="145.7" y="967.3" width="65.3" height="11.9"/><text x="178.3" y="975.3">std::list&lt; std::string &gt;</text></g>
<g id="tree_evaluator" class="n r"><rect x="491" y="993.6" width="45.7" height="11.3"/><text x="513.8" y="1001.4">tree_evaluator</text></g>
<g id="cmdline_options" class="n"><rect x="319.5" y="1053" width="51.5" height="11.4"/><text x="345.2" y="1060.8">cmdline_options</text></g>
<g id="QStringList" class="n"><rect x="645.6" y="428.8" width="38.7" height="11.2"/><text x="665" y="436.5">QStringList</text></g>
<g id="QList_int" class="n"><rect x="645" y="488.8" width="40.3" height="11.2"/><text x="665.1" y="496.5">QList&lt; int &gt;</text></g>
<g id="QObject" class="n"><rect x="649.4" y="519.2" width="30.6" height="11.2"/><text x="664.7" y="526.9">QObject</text></g>
<g id="qt_application" class="n"><rect x="806.4" y="642.6" width="66.4" height="11.4"/><text x="839.6" y="650.4">octave::qt_application</text></g>
<g id="symbol_info_list" class="n r"><rect x="628.5" y="748.8" width="72.9" height="11.2"/><text x="665" y="756.5">octave::symbol_info_list</text></g>
<g id="QList_QColor" class="n"><rect x="638.8" y="771.2" width="52.6" height="11.2"/><text x="665.1" y="778.9">QList&lt; QColor &gt;</text></g>
<g id="workspace_model" class="n"><rect x="800.6" y="769.4" width="78" height="11.5"/><text x="839.6" y="777.2">octave::workspace_model</text></g>
<g id="octave_qapplication" class="n"><rect x="798.9" y="837.4" width="81.4" height="11.2"/><text x="839.6" y="845.1">octave::octave_qapplication</text></g>
<g id="QApplication" class="n"><rect x="643.5" y="860.4" width="42.8" height="11.5"/><text x="664.9" y="868.2">QApplication</text></g>
<g id="QString" class="n"><rect x="650.4" y="1074" width="29.4" height="11.3"/><text x="665.1" y="1081.7">QString</text></g>
<g id="QList_QTemporaryFile" class="n"><rect x="625" y="1132" width="80" height="11"/><text x="665" y="1139.7">QList&lt; QTemporaryFile * &gt;</text></g>
<g id="resource_manager" class="n"><rect x="800.6" y="1119.5" width="78" height="11.5"/><text x="839.6" y="1127.3">octave::resource_manager</text></g>
<g id="QAbstractTableModel" class="n"><rect x="632.2" y="1154.6" width="65.8" height="11.2"/><text x="665.1" y="1162.3">QAbstractTableModel</text></g>
<g id="gui_settings" class="n"><rect x="634.3" y="1177.6" width="61.7" height="11.2"/><text x="665.1" y="1185.3">octave::gui_settings</text></g>
<g id="QSettings" class="n"><rect x="496" y="1176.6" width="36" height="11.4"/><text x="514" y="1184.4">QSettings</text></g>
<g id="variable_editor_model" class="n"><rect x="806" y="1190.3" width="67.4" height="18"/><text x="839.7" y="1197.6">octave::variable_editor</text><text x="839.7" y="1204.6">_model</text></g>
<g id="QTranslator" class="n"><rect x="817.7" y="665.3" width="44.1" height="11.1"/><text x="839.7" y="673">QTranslator *</text></g>
<g id="QThread" class="n"><rect x="821.8" y="688" width="35.9" height="11.4"/><text x="839.7" y="695.8">QThread *</text></g>
<g id="QP_community_news" class="n"><rect x="796" y="711" width="87" height="18"/><text x="839.5" y="718.3">QPointer&lt; octave::community</text><text x="839.5" y="725.3">_news &gt;</text></g>
<g id="QP_release_notes" class="n"><rect x="801" y="740" width="77.6" height="18"/><text x="839.8" y="747.3">QPointer&lt; octave::release</text><text x="839.8" y="754.3">_notes &gt;</text></g>
<g id="QP_terminal_dock_widget" class="n"><rect x="800" y="522.3" width="79.3" height="18"/><text x="839.6" y="529.6">QPointer&lt; octave::terminal</text><text x="839.6" y="536.6">_dock_widget &gt;</text></g>
<g id="QP_documentation_dock_widget" class="n"><rect x="791.3" y="860.7" width="96.5" height="17.4"/><text x="839.5" y="867.9">QPointer&lt; octave::documentation</text><text x="839.5" y="874.9">_dock_widget &gt;</text></g>
<g id="QP_files_dock_widget" class="n"><rect x="805" y="890" width="69" height="17.7"/><text x="839.5" y="897.2">QPointer&lt; octave::files</text><text x="839.5" y="904.2">_dock_widget &gt;</text></g>
<g id="QP_history_dock_widget" class="n"><rect x="801.6" y="918.8" width="76.4" height="18"/><text x="839.8" y="926.1">QPointer&lt; octave::history</text><text x="839.8" y="933.1">_dock_widget &gt;</text></g>
<g id="QP_workspace_view" class="n"><rect x="796" y="985.8" width="87" height="17.8"/><text x="839.5" y="993.1">QPointer&lt; octave::workspace</text><text x="839.5" y="1000.1">_view &gt;</text></g>
<g id="QP_file_editor_interface" class="n"><rect x="806.7" y="1015" width="66.1" height="18"/><text x="839.7" y="1022.3">QPointer&lt; octave::file</text><text x="839.7" y="1029.3">_editor_interface &gt;</text></g>
<g id="QP_variable_editor" class="n"><rect x="800.6" y="1044.3" width="78" height="18"/><text x="839.6" y="1051.6">QPointer&lt; octave::variable</text><text x="839.6" y="1058.6">_editor &gt;</text></g>
<g id="base_qobject" class="n"><rect x="994.6" y="739.2" width="64.9" height="11.5"/><text x="1027" y="747">octave::base_qobject</text></g>
<g id="variable_editor_view" class="n g"><rect x="1173.5" y="852.6" width="83.3" height="11.2"/><text x="1215.1" y="860.3">octave::variable_editor_view</text></g>
<g id="QTableView" class="n"><rect x="1006.9" y="860" width="41.1" height="11.3"/><text x="1027.4" y="867.7">QTableView</text></g>
<g id="QList_shortcut" class="n"><rect x="991.5" y="132.4" width="71.1" height="18"/><text x="1027" y="139.7">QList&lt; octave::shortcut</text><text x="1027" y="146.7">_manager::shortcut_t &gt;</text></g>
<g id="QHash_QString_int" class="n"><rect x="992.5" y="163.8" width="69.1" height="11.2"/><text x="1027" y="171.5">QHash&lt; QString, int &gt;</text></g>
<g id="QHash_QString_QTreeWidgetItem" class="n"><rect x="982" y="186.5" width="90.6" height="18"/><text x="1027.3" y="193.8">QHash&lt; QString, QTreeWidget</text><text x="1027.3" y="200.8">Item * &gt;</text></g>
<g id="QHash_int_QTreeWidgetItem" class="n"><rect x="977.8" y="215.7" width="98.2" height="11.3"/><text x="1026.9" y="223.4">QHash&lt; int, QTreeWidgetItem * &gt;</text></g>
<g id="QHash_QTreeWidgetItem_int" class="n"><rect x="987.4" y="239" width="79.3" height="18"/><text x="1027" y="246.3">QHash&lt; QTreeWidgetItem</text><text x="1027" y="253.3">*, int &gt;</text></g>
<g id="QMutex" class="n"><rect x="1012" y="268.5" width="30.5" height="11.2"/><text x="1027.2" y="276.2">QMutex</text></g>
<g id="QDialog" class="n"><rect x="1009.6" y="290.9" width="34.9" height="11.1"/><text x="1027" y="298.6">QDialog *</text></g>
<g id="QLabel" class="n"><rect x="1011" y="313.5" width="32" height="11.2"/><text x="1027" y="321.2">QLabel *</text></g>
<g id="QWaitCondition" class="n"><rect x="1001.7" y="359" width="50.7" height="11"/><text x="1027" y="366.7">QWaitCondition</text></g>
<g id="QWidget" class="n"><rect x="1010.6" y="404.3" width="32.4" height="11.5"/><text x="1026.8" y="412.1">QWidget</text></g>
<g id="shortcut_manager" class="n"><rect x="1176.2" y="253.6" width="77.6" height="11.2"/><text x="1215" y="261.3">octave::shortcut_manager</text></g>
<g id="QUIWidgetCreator" class="n"><rect x="1175.5" y="432.9" width="78.9" height="11.1"/><text x="1215" y="440.6">octave::QUIWidgetCreator</text></g>
<g id="interpreter_events" class="n"><rect x="1186.8" y="455.6" width="56.7" height="11.2"/><text x="1215.1" y="463.3">interpreter_events</text></g>
<g id="QVariant" class="n"><rect x="1199" y="478.6" width="32.3" height="11.2"/><text x="1215.1" y="486.3">QVariant</text></g>
<g id="qt_interpreter_events" class="n"><rect x="1359.4" y="463.3" width="65.1" height="18.4"/><text x="1392" y="470.7">octave::qt_interpreter</text><text x="1392" y="477.7">_events</text></g>
<g id="shared_ptr" class="n"><rect x="1492.5" y="509.3" width="73.5" height="18"/><text x="1529.2" y="516.6">std::shared_ptr&lt; octave</text><text x="1529.2" y="523.6">::qt_interpreter_events &gt;</text></g>
<g id="QWidget_ptr" class="n"><rect x="1196.7" y="618" width="36.9" height="11.5"/><text x="1215.1" y="625.8">QWidget *</text></g>
<g id="QToolBar" class="n"><rect x="1196" y="640.7" width="38" height="11.3"/><text x="1215" y="648.4">QToolBar *</text></g>
<g id="QMenu" class="n"><rect x="1198.6" y="663.4" width="32.7" height="11.2"/><text x="1215" y="671.1">QMenu *</text></g>
<g id="external_editor_interface" class="n"><rect x="1180.8" y="686.4" width="68.7" height="18"/><text x="1215.1" y="693.7">octave::external_editor</text><text x="1215.1" y="700.7">_interface</text></g>
<g id="interpreter_qobject" class="n"><rect x="1186.8" y="716" width="56.7" height="17.6"/><text x="1215.1" y="723.2">octave::interpreter</text><text x="1215.1" y="730.2">_qobject</text></g>
<g id="QMenuBar" class="n"><rect x="1194.3" y="744.8" width="41.7" height="11.5"/><text x="1215.1" y="752.6">QMenuBar *</text></g>
<g id="QAction" class="n"><rect x="1197.3" y="773.7" width="35.3" height="11.3"/><text x="1215" y="781.4">QAction *</text></g>
<g id="QComboBox" class="n"><rect x="1191.4" y="874.7" width="47.6" height="11.3"/><text x="1215.2" y="882.4">QComboBox *</text></g>
<g id="QP_settings_dialog" class="n"><rect x="1175.5" y="943.4" width="78.9" height="18"/><text x="1215" y="950.7">QPointer&lt; octave::settings</text><text x="1215" y="957.7">_dialog &gt;</text></g>
<g id="main_window" class="n"><rect x="1359.4" y="972.8" width="65.4" height="11.2"/><text x="1392.1" y="980.5">octave::main_window</text></g>
<g id="octave_dock_widget" class="n r"><rect x="1497.4" y="990" width="63.1" height="18"/><text x="1529" y="997.3">octave::octave_dock</text><text x="1529" y="1004.3">_widget</text></g>
<g id="QP_set_path_dialog" class="n"><rect x="1181.8" y="1064.5" width="66.7" height="17.7"/><text x="1215.1" y="1071.7">QPointer&lt; octave::set</text><text x="1215.1" y="1078.7">_path_dialog &gt;</text></g>
<g id="QStatusBar" class="n"><rect x="1005" y="1141" width="44.3" height="11"/><text x="1027.1" y="1148.7">QStatusBar *</text></g>
<g id="find_files_dialog" class="n r"><rect x="1188.4" y="1145" width="53.6" height="17.7"/><text x="1215.2" y="1152.2">octave::find_files</text><text x="1215.2" y="1159.2">_dialog</text></g>
<g id="QClipboard" class="n"><rect x="1193.7" y="1174.5" width="42.9" height="11.2"/><text x="1215.1" y="1182.2">QClipboard *</text></g>
<g id="QLineEdit_ptr" class="n"><rect x="1007.5" y="1205" width="39.5" height="11"/><text x="1027.2" y="1212.7">QLineEdit *</text></g>
<g id="QMainWindow" class="n"><rect x="1191.4" y="1197" width="47.6" height="11.7"/><text x="1215.2" y="1204.9">QMainWindow</text></g>
<g id="QHash_QMenu" class="n"><rect x="1168.3" y="1220" width="93.7" height="11.3"/><text x="1215.1" y="1227.7">QHash&lt; QMenu *, QStringList &gt;</text></g>
<g id="led_indicator" class="n r"><rect x="1183.4" y="1242.5" width="63.4" height="11.2"/><text x="1215.1" y="1250.2">octave::led_indicator</text></g>
</g>
</svg>
